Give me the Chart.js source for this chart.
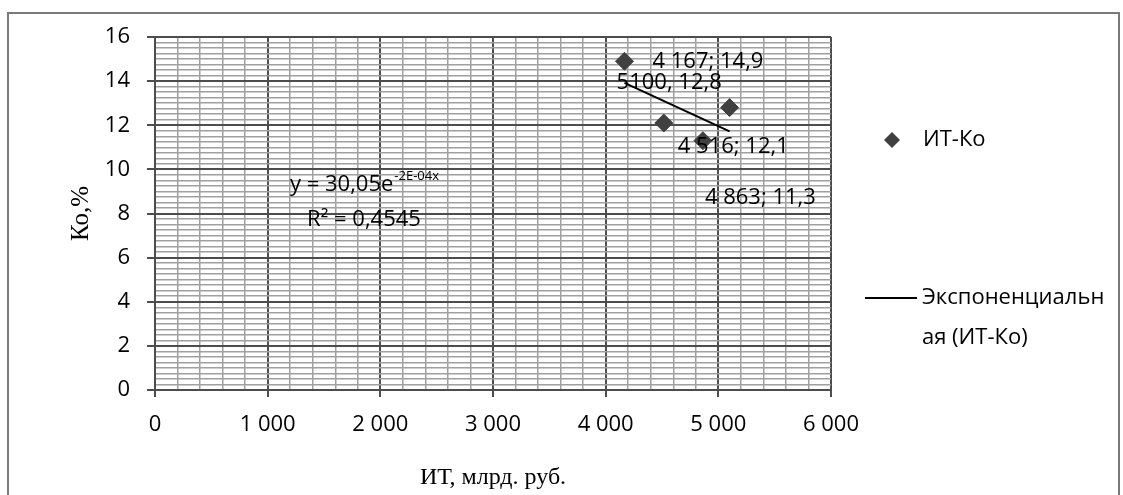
<!DOCTYPE html>
<html>
<head>
<meta charset="utf-8">
<script src="https://cdn.jsdelivr.net/npm/chart.js@4"></script>
<style>
  html, body { margin: 0; padding: 0; background: #fff; }
</style>
</head>
<body>
<canvas id="chart" width="1123" height="495"></canvas>
<script>
// данные
const itValues = [4167, 4516, 4863, 5100];
const koValues = [14.9, 12.1, 11.3, 12.8];
const pointLabels = ['4 167; 14,9', '4 516; 12,1', '4 863; 11,3', '5100, 12,8'];
const trendX = [4167, 5100];
const trendY = [13.92, 11.72];
const seriesName = 'ИТ-Ко';
const trendName = 'Экспоненциальная (ИТ-Ко)';
const trendLegendLines = ['Экспоненциальн', 'ая (ИТ-Ко)'];
const equationMain = 'y = 30,05e';
const equationPower = '-2E-04x';
const r2Text = 'R² = 0,4545';
const xTitle = 'ИТ, млрд. руб.';
const yTitle = 'Ко,%';

const MAJOR = '#4d4d4d';
const MINOR = '#a0a0a0';
const SANS = "'Open Sans', 'Noto Sans', sans-serif";
const SERIF = "'Liberation Serif', 'DejaVu Serif', serif";

const fmt = v => Math.round(v).toString().replace(/\B(?=(\d{3})+(?!\d))/g, ' ');

const scatterPoints = itValues.map((x, i) => ({ x: x, y: koValues[i] }));
const trendPoints = trendX.map((x, i) => ({ x: x, y: trendY[i] }));

// подписи точек, уравнение, легенда, рамка
const extras = {
  id: 'extras',
  afterDatasetsDraw(chart) {
    const ctx = chart.ctx;
    const meta = chart.getDatasetMeta(0);
    const offsets = [[28, 0], [14, 24], [2, 57], [-113, -25]];
    ctx.save();
    ctx.fillStyle = '#000';
    ctx.font = '22px ' + SANS;
    ctx.textAlign = 'left';
    ctx.textBaseline = 'middle';
    meta.data.forEach((p, i) => {
      ctx.fillText(pointLabels[i], p.x + offsets[i][0], p.y + offsets[i][1]);
    });

    // уравнение тренда
    const xs = chart.scales.x, ys = chart.scales.y;
    const cx = xs.getPixelForValue(1855);
    const cy = ys.getPixelForValue(9.3);
    ctx.font = '22px ' + SANS;
    const w1 = ctx.measureText(equationMain).width;
    ctx.font = '13px ' + SANS;
    const w2 = ctx.measureText(equationPower).width;
    const start = cx - (w1 + w2) / 2;
    ctx.font = '22px ' + SANS;
    ctx.fillText(equationMain, start, cy);
    ctx.font = '13px ' + SANS;
    ctx.fillText(equationPower, start + w1 + 1, cy - 9);
    ctx.font = '22px ' + SANS;
    ctx.textAlign = 'center';
    ctx.fillText(r2Text, cx, cy + 35);
    ctx.restore();
  },
  afterDraw(chart) {
    const ctx = chart.ctx;
    ctx.save();
    // внешняя рамка
    ctx.strokeStyle = '#7a7a7a';
    ctx.lineWidth = 2;
    ctx.strokeRect(8, 13, 1111, 500);

    // легенда
    ctx.fillStyle = '#404040';
    ctx.beginPath();
    ctx.moveTo(892 - 8, 140);
    ctx.lineTo(892, 140 - 8);
    ctx.lineTo(892 + 8, 140);
    ctx.lineTo(892, 140 + 8);
    ctx.closePath();
    ctx.fill();
    ctx.fillStyle = '#000';
    ctx.font = '22px ' + SANS;
    ctx.textAlign = 'left';
    ctx.textBaseline = 'middle';
    ctx.fillText(seriesName, 923, 140);

    ctx.strokeStyle = '#000';
    ctx.lineWidth = 2;
    ctx.beginPath();
    ctx.moveTo(865, 298);
    ctx.lineTo(917, 298);
    ctx.stroke();
    ctx.fillText(trendLegendLines[0], 922, 298);
    ctx.fillText(trendLegendLines[1], 922, 338);
    ctx.restore();
  }
};

new Chart(document.getElementById('chart'), {
  type: 'scatter',
  data: {
    datasets: [{
      label: seriesName,
      data: scatterPoints,
      pointStyle: 'rectRot',
      pointRadius: 9,
      pointHoverRadius: 9,
      backgroundColor: '#404040',
      borderColor: '#404040',
      borderWidth: 1
    }, {
      label: trendName,
      data: trendPoints,
      showLine: true,
      pointRadius: 0,
      borderColor: '#000',
      borderWidth: 2,
      fill: false
    }]
  },
  options: {
    responsive: false,
    animation: false,
    layout: { padding: { left: 10, right: 292, top: 37, bottom: 0 } },
    plugins: {
      legend: { display: false },
      tooltip: { enabled: false }
    },
    scales: {
      x: {
        type: 'linear',
        min: 0,
        max: 6000,
        afterFit: s => { s.height = 105; },
        ticks: {
          stepSize: 200,
          autoSkip: false,
          maxRotation: 0,
          padding: 15,
          color: '#000',
          font: { family: SANS, size: 22 },
          callback: v => (v % 1000 === 0 ? fmt(v) : '')
        },
        grid: {
          color: c => (c.tick && c.tick.value % 1000 === 0 ? MAJOR : MINOR),
          lineWidth: c => (c.tick && c.tick.value % 1000 === 0 ? 2 : 1.5),
          tickColor: c => (c.tick && c.tick.value % 1000 === 0 ? MAJOR : 'rgba(0,0,0,0)'),
          tickLength: 7
        },
        border: { display: true, color: MAJOR, width: 2 },
        title: {
          display: true,
          text: xTitle,
          color: '#000',
          font: { family: SERIF, size: 24 },
          padding: { top: 0, bottom: 3 }
        }
      },
      y: {
        min: 0,
        max: 16,
        afterFit: s => { s.width = 145; },
        ticks: {
          stepSize: 0.25,
          autoSkip: false,
          padding: 17,
          color: '#000',
          font: { family: SANS, size: 22 },
          callback: v => (v % 2 === 0 ? String(v) : '')
        },
        grid: {
          color: c => (c.tick && c.tick.value % 2 === 0 ? MAJOR : MINOR),
          lineWidth: c => (c.tick && c.tick.value % 2 === 0 ? 2 : 1.5),
          tickColor: c => (c.tick && c.tick.value % 2 === 0 ? MAJOR : 'rgba(0,0,0,0)'),
          tickLength: 8
        },
        border: { display: true, color: MAJOR, width: 2 },
        title: {
          display: true,
          text: yTitle,
          color: '#000',
          font: { family: SERIF, size: 25 },
          padding: { top: 56, bottom: 0 }
        }
      }
    }
  },
  plugins: [extras]
});
</script>
</body>
</html>
